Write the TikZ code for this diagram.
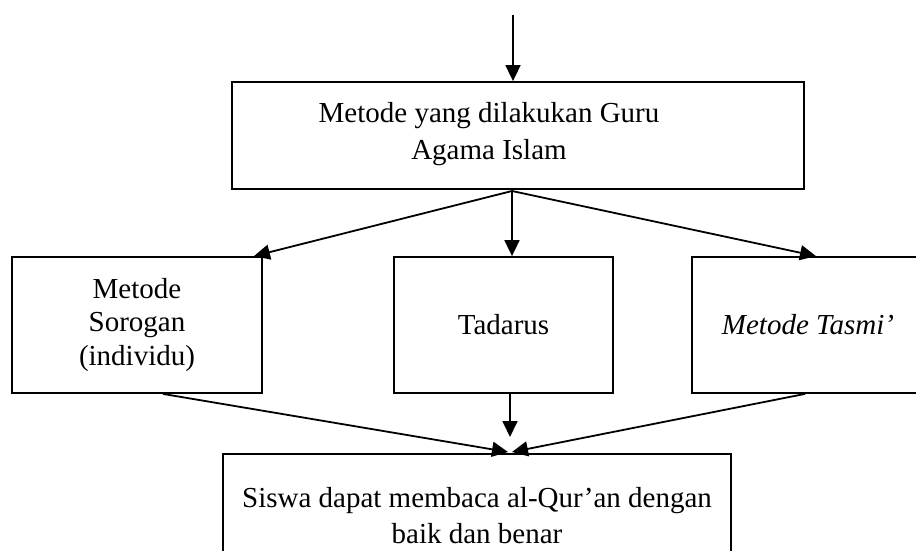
\documentclass[tikz,border=0pt]{standalone}
\usepackage{fontspec}
\setmainfont{Liberation Serif}
\usetikzlibrary{arrows.meta}

\begin{document}
\begin{tikzpicture}[x=1pt,y=-1pt,
  box/.style={draw,line width=1.8pt,rectangle,align=center,inner sep=0pt,
    font=\fontsize{29}{33.5}\selectfont},
  arr/.style={line width=1.8pt,-{Triangle[length=16pt,width=15pt]}}]
\useasboundingbox (0,0) rectangle (916,551);
\clip (0,0) rectangle (916,551);
\fill[white] (0,0) rectangle (916,551);
\node[box,minimum width=572pt,minimum height=107pt,
  label={[align=center,font=\fontsize{29}{37}\selectfont,xshift=-29pt,yshift=1.7pt]center:Metode yang dilakukan Guru\\Agama Islam}]
  (guru) at (518,135.5) {};
\node[box,minimum width=250pt,minimum height=136pt] (sorogan) at (137,325)
  {Metode\\Sorogan\\(individu)};
\node[box,minimum width=219pt,minimum height=136pt] (tadarus) at (503.5,325)
  {Tadarus};
\node[box,minimum width=232pt,minimum height=136pt] (tasmi) at (808,325)
  {\itshape Metode Tasmi’};
\node[box,font=\fontsize{29}{36}\selectfont,minimum width=508pt,minimum height=124pt]
  (siswa) at (477,516) {Siswa dapat membaca al-Qur’an dengan\\baik dan benar};
\coordinate (start) at (513,15);
\coordinate (fan) at (512,191);
\coordinate (meet) at (510,452);
\draw[arr] (start) -- (start |- guru.north);
\draw[arr] (fan) -- ([xshift=-9pt]sorogan.north east);
\draw[arr] (fan) -- (fan |- tadarus.north);
\draw[arr] (fan) -- ([xshift=8pt]tasmi.north);
\draw[arr] ([xshift=-100pt]sorogan.south east) -- ([xshift=-2pt]meet);
\draw[arr] (tadarus.south -| meet) -- ([yshift=15pt]meet);
\draw[arr] ([xshift=-3pt]tasmi.south) -- ([xshift=2pt]meet);
\end{tikzpicture}
\end{document}
